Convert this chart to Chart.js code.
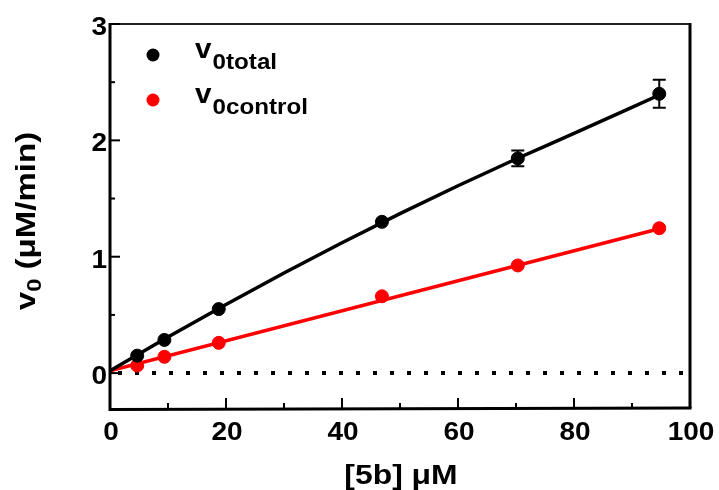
<!DOCTYPE html>
<html><head><meta charset="utf-8">
<script src="https://cdn.jsdelivr.net/npm/chart.js@4.4.1/dist/chart.umd.min.js"></script>
<style>html,body{margin:0;padding:0;background:#fff;} canvas{display:block;}</style>
</head><body>
<canvas id="c" width="719" height="490"></canvas>
<script>
// ---- data ----
const concentrations = [4.69, 9.38, 18.75, 46.88, 70.31, 94.7];
const v0Total      = [0.15, 0.285, 0.55, 1.30, 1.845, 2.40];
const v0TotalErr   = [0.01, 0.01, 0.01, 0.015, 0.068, 0.12];
const v0Control    = [0.065, 0.14, 0.26, 0.66, 0.925, 1.245];
const fitTotalX    = [0, 10, 20, 30, 40, 50, 60, 70, 80, 94.7];
const fitTotalY    = [0.02, 0.31, 0.59, 0.86, 1.12, 1.37, 1.61, 1.84, 2.06, 2.39];
const fitControlX  = [0, 94.7];
const fitControlY  = [0.02, 1.24];
const baselineX    = [0, 100];
const baselineY    = [0, 0];
const xTicks       = [0, 20, 40, 60, 80, 100];
const xMinorTicks  = [10, 30, 50, 70, 90];
const yTicks       = [0, 1, 2, 3];
const yMinorTicks  = [0.5, 1.5, 2.5];
const legendMain   = ['v', 'v'];
const legendSub    = ['0total', '0control'];
const xTitle       = '[5b] μM';
const yTitleMain   = 'v';
const yTitleSub    = '0';
const yTitleRest   = ' (μM/min)';

const FONT = '"Liberation Sans", Arial, sans-serif';
const BLACK = '#000000', RED = '#ff0000';

const pts = (xs, ys) => xs.map((x, i) => ({x, y: ys[i]}));

// draw text stretched horizontally by sx, anchored at (x,y)
function wideText(ctx, text, x, y, sx, align) {
  ctx.save();
  ctx.translate(x, y); ctx.scale(sx, 1);
  ctx.textAlign = align;
  ctx.fillText(text, 0, 0);
  ctx.restore();
}

const decor = {
  id: 'decor',
  afterDatasetsDraw(chart) {
    const ctx = chart.ctx, xs = chart.scales.x, ys = chart.scales.y, a = chart.chartArea;
    ctx.save();
    // error bars
    ctx.strokeStyle = BLACK; ctx.lineWidth = 2;
    concentrations.forEach((c, i) => {
      const e = v0TotalErr[i];
      const px = xs.getPixelForValue(c);
      const top = ys.getPixelForValue(v0Total[i] + e), bot = ys.getPixelForValue(v0Total[i] - e);
      if (bot - top < 12) return;
      ctx.beginPath();
      ctx.moveTo(px, top); ctx.lineTo(px, bot);
      ctx.moveTo(px - 6.5, top); ctx.lineTo(px + 6.5, top);
      ctx.moveTo(px - 6.5, bot); ctx.lineTo(px + 6.5, bot);
      ctx.stroke();
    });
    // frame
    ctx.strokeStyle = '#222'; ctx.lineWidth = 2;
    ctx.beginPath(); ctx.moveTo(a.left, a.top); ctx.lineTo(a.right, a.top); ctx.stroke();
    ctx.strokeStyle = BLACK; ctx.lineWidth = 3;
    ctx.beginPath(); ctx.moveTo(a.right, a.top - 1); ctx.lineTo(a.right, a.bottom); ctx.stroke();
    ctx.beginPath(); ctx.moveTo(a.left, a.top - 1); ctx.lineTo(a.left, a.bottom + 1.5); ctx.lineTo(a.right + 1.5, a.bottom); ctx.stroke();
    // inward ticks
    ctx.lineWidth = 2;
    const tx = (v, len) => { const p = xs.getPixelForValue(v); ctx.beginPath(); ctx.moveTo(p, a.bottom); ctx.lineTo(p, a.bottom - len); ctx.stroke(); };
    const ty = (v, len) => { const p = ys.getPixelForValue(v); ctx.beginPath(); ctx.moveTo(a.left, p); ctx.lineTo(a.left + len, p); ctx.stroke(); };
    xTicks.forEach(v => tx(v, 10)); xMinorTicks.forEach(v => tx(v, 5));
    yTicks.forEach(v => ty(v, 10)); yMinorTicks.forEach(v => ty(v, 5));
    // tick labels
    ctx.fillStyle = BLACK;
    ctx.font = 'bold 25px ' + FONT; ctx.textBaseline = 'alphabetic';
    xTicks.forEach(v => wideText(ctx, String(v), xs.getPixelForValue(v) + 1, a.bottom + 32, 1.12, 'center'));
    yTicks.forEach(v => wideText(ctx, String(v), a.left - 3, ys.getPixelForValue(v) + 11, 1.12, 'right'));
    // legend
    const colors = [BLACK, RED];
    const ly = [55, 100];
    legendMain.forEach((m, i) => {
      ctx.fillStyle = colors[i];
      ctx.beginPath(); ctx.arc(153, ly[i], 6.5, 0, Math.PI * 2); ctx.fill();
      ctx.fillStyle = BLACK;
      ctx.font = 'bold 27px ' + FONT;
      const w = ctx.measureText(m).width * 1.1;
      wideText(ctx, m, 195, ly[i] + 3, 1.1, 'left');
      ctx.font = 'bold 22px ' + FONT;
      wideText(ctx, legendSub[i], 195 + w + 1, ly[i] + 14, 1.1, 'left');
    });
    // x title
    ctx.font = 'bold 27px ' + FONT;
    wideText(ctx, xTitle, (a.left + a.right) / 2 + 1, 484, 1.18, 'center');
    // y title
    ctx.translate(35, (a.top + a.bottom) / 2 + 5);
    ctx.rotate(-Math.PI / 2);
    ctx.scale(1.18, 1);
    ctx.textAlign = 'left';
    ctx.font = 'bold 28px ' + FONT; const w1 = ctx.measureText(yTitleMain).width; const w3 = ctx.measureText(yTitleRest).width;
    ctx.font = 'bold 20px ' + FONT; const w2 = ctx.measureText(yTitleSub).width;
    let x0 = -(w1 + w2 + w3) / 2;
    ctx.font = 'bold 28px ' + FONT; ctx.fillText(yTitleMain, x0, 0);
    ctx.font = 'bold 20px ' + FONT; ctx.fillText(yTitleSub, x0 + w1, 6);
    ctx.font = 'bold 28px ' + FONT; ctx.fillText(yTitleRest, x0 + w1 + w2, 0);
    ctx.restore();
  }
};

new Chart(document.getElementById('c'), {
  type: 'scatter',
  data: {
    datasets: [
      { data: pts(concentrations, v0Total), backgroundColor: BLACK, borderColor: BLACK, pointRadius: 6.5, pointHoverRadius: 6.5, order: 1 },
      { data: pts(concentrations, v0Control), backgroundColor: RED, borderColor: RED, pointRadius: 6.5, pointHoverRadius: 6.5, order: 2 },
      { data: pts(fitTotalX, fitTotalY), showLine: true, pointRadius: 0, borderColor: BLACK, borderWidth: 3.5, cubicInterpolationMode: 'monotone', order: 3 },
      { data: pts(fitControlX, fitControlY), showLine: true, pointRadius: 0, borderColor: RED, borderWidth: 3.5, order: 4 },
      { data: pts(baselineX, baselineY), showLine: true, pointRadius: 0, borderColor: BLACK, borderWidth: 4, borderDash: [4, 13], borderDashOffset: -8, order: 5 }
    ]
  },
  options: {
    responsive: false, animation: false, devicePixelRatio: 1,
    layout: { padding: { left: 0, top: 24, right: 29, bottom: 0 } },
    plugins: { legend: { display: false }, tooltip: { enabled: false } },
    scales: {
      x: {
        type: 'linear', min: 0, max: 100,
        afterBuildTicks: s => { s.ticks = xTicks.map(v => ({value: v})); },
        afterFit: s => { s.height = 82; },
        grid: { display: false, drawTicks: false }, border: { display: false },
        ticks: { display: false }
      },
      y: {
        type: 'linear', min: -0.3, max: 3,
        afterBuildTicks: s => { s.ticks = yTicks.map(v => ({value: v})); },
        afterFit: s => { s.width = 110; },
        grid: { display: false, drawTicks: false }, border: { display: false },
        ticks: { display: false }
      }
    }
  },
  plugins: [decor]
});
</script>
</body></html>
